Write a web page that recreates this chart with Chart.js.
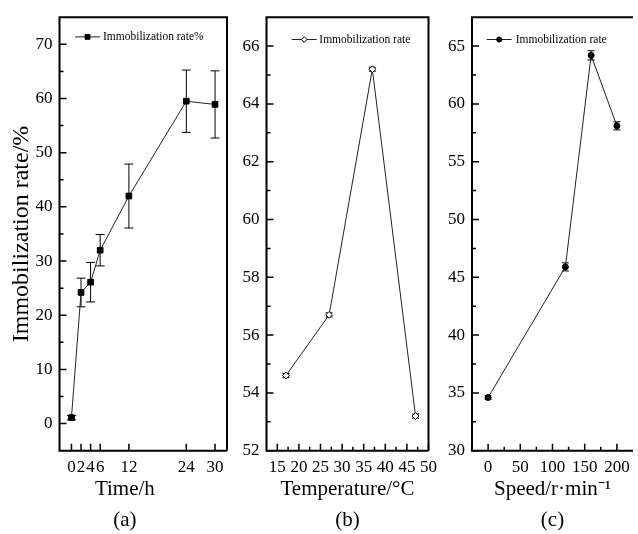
<!DOCTYPE html>
<html lang="en">
<head>
<meta charset="UTF-8">
<title>Immobilization rate</title>
<script src="https://cdn.jsdelivr.net/npm/chart.js"></script>
<style>
  body { margin: 0; background: #fff; }
  #wrap { position: relative; width: 638px; height: 534px; overflow: hidden; }
  canvas { position: absolute; top: 0; }
</style>
</head>
<body>
<div id="wrap">
  <canvas id="chartA" width="238" height="534" style="left:0px"></canvas>
  <canvas id="chartB" width="216" height="534" style="left:228px"></canvas>
  <canvas id="chartC" width="200" height="534" style="left:438px"></canvas>
</div>
<script>
// (a) immobilization time
const timeH = [0, 2, 4, 6, 12, 24, 30]
const rateTime = [1.1, 24.2, 26.1, 32.0, 42.0, 59.5, 58.9]
const errTime = [0.4, 2.65, 3.65, 2.9, 5.9, 5.75, 6.2]
const timeTicks = [0, 2, 4, 6, 12, 24, 30]
const rateTicksA = [0, 10, 20, 30, 40, 50, 60, 70]

// (b) temperature
const tempC = [17, 27, 37, 47]
const rateTemp = [54.6, 56.7, 65.2, 53.2]
const errTemp = [0.07, 0.07, 0.07, 0.07]
const tempTicks = [15, 20, 25, 30, 35, 40, 45, 50]
const rateTicksB = [52, 54, 56, 58, 60, 62, 64, 66]

// (c) shaking speed
const speed = [0, 120, 160, 200]
const rateSpeed = [34.6, 45.9, 64.2, 58.1]
const errSpeed = [0.15, 0.35, 0.4, 0.35]
const speedTicks = [0, 50, 100, 150, 200]
const rateTicksC = [30, 35, 40, 45, 50, 55, 60, 65]

Chart.defaults.font.family = "'Liberation Serif', 'Times New Roman', serif"
Chart.defaults.color = '#000'

function drawMark(ctx, style, x, y, r, fill) {
  ctx.beginPath()
  if (style === 'rect') {
    const s = r * Math.SQRT1_2
    ctx.rect(x - s, y - s, 2 * s, 2 * s)
  } else if (style === 'rectRot') {
    ctx.moveTo(x, y - r); ctx.lineTo(x + r, y); ctx.lineTo(x, y + r); ctx.lineTo(x - r, y); ctx.closePath()
  } else {
    ctx.arc(x, y, r, 0, Math.PI * 2)
  }
  ctx.fillStyle = fill
  ctx.fill()
  ctx.lineWidth = 1
  ctx.strokeStyle = '#000'
  ctx.stroke()
}

// error bars, inward ticks, box frame and the small in-plot legend
const originLook = {
  id: 'originLook',
  beforeDatasetsDraw(chart, args, o) {
    const ctx = chart.ctx, sx = chart.scales.x, sy = chart.scales.y
    ctx.save()
    ctx.strokeStyle = '#000'
    ctx.lineWidth = 1
    chart.data.datasets.forEach(ds => {
      ds.data.forEach((p, i) => {
        const x = sx.getPixelForValue(p.x)
        const yTop = sy.getPixelForValue(p.y + ds.err[i])
        const yBot = sy.getPixelForValue(p.y - ds.err[i])
        ctx.beginPath()
        ctx.moveTo(x, yTop); ctx.lineTo(x, yBot)
        ctx.moveTo(x - o.cap / 2, yTop); ctx.lineTo(x + o.cap / 2, yTop)
        ctx.moveTo(x - o.cap / 2, yBot); ctx.lineTo(x + o.cap / 2, yBot)
        ctx.stroke()
      })
    })
    ctx.restore()
  },
  afterDatasetsDraw(chart, args, o) {
    const ctx = chart.ctx, a = chart.chartArea
    ctx.save()
    ctx.strokeStyle = '#000'
    ctx.lineWidth = 1.5
    ctx.beginPath()
    const tick = (s, v, len) => {
      if (s.isHorizontal()) {
        const x = s.getPixelForValue(v)
        ctx.moveTo(x, a.bottom); ctx.lineTo(x, a.bottom - len)
      } else {
        const y = s.getPixelForValue(v)
        ctx.moveTo(a.left, y); ctx.lineTo(a.left + len, y)
      }
    }
    ;[[chart.scales.x, o.xMinor], [chart.scales.y, o.yMinor]].forEach(([s, step]) => {
      const major = s.ticks.map(t => t.value)
      major.forEach(v => tick(s, v, 7))
      if (step) {
        for (let v = Math.ceil(s.min / step) * step; v < s.max - 1e-9; v += step) {
          const r = Math.round(v * 1000) / 1000
          if (r > s.min && !major.includes(r)) tick(s, r, 4)
        }
      }
    })
    ctx.stroke()
    ctx.lineWidth = 2
    ctx.beginPath()
    ctx.moveTo(a.right, a.bottom); ctx.lineTo(a.left, a.bottom); ctx.lineTo(a.left, a.top); ctx.lineTo(a.right, a.top)
    if (o.rightEdge) ctx.lineTo(a.right, a.bottom)
    ctx.stroke()
    ctx.restore()
  },
  afterDraw(chart, args, o) {
    const ctx = chart.ctx, a = chart.chartArea, ds = chart.data.datasets[0]
    const x0 = a.left + o.legendX, y0 = a.top + o.legendY
    ctx.save()
    ctx.strokeStyle = '#222'
    ctx.lineWidth = 1
    ctx.beginPath(); ctx.moveTo(x0, y0); ctx.lineTo(x0 + 25, y0); ctx.stroke()
    drawMark(ctx, ds.pointStyle, x0 + 12.5, y0, ds.pointRadius * 0.85, ds.pointBackgroundColor)
    ctx.fillStyle = '#000'
    ctx.font = "11.5px 'Liberation Serif'"
    ctx.textBaseline = 'middle'
    ctx.fillText(ds.label, x0 + o.textGap, y0)
    ctx.restore()
  }
}

function axis(min, max, tickList, fitFn, title) {
  return {
    type: 'linear', min: min, max: max,
    afterBuildTicks: s => { s.ticks = tickList.map(v => ({ value: v })) },
    afterFit: fitFn,
    grid: { display: false, drawTicks: false },
    border: { display: false },
    ticks: { autoSkip: false, maxRotation: 0, padding: 7, font: { size: 17 }, callback: v => v },
    title: title
  }
}

function xTitle(lines) {
  return { display: true, text: lines, font: { size: 21, lineHeight: '31px' }, padding: { top: 0, bottom: -2 } }
}

function points(xs, ys) {
  return xs.map((x, i) => ({ x: x, y: ys[i] }))
}

const common = {
  responsive: false,
  animation: false,
  events: []
}

// graph (a)
new Chart(document.getElementById('chartA'), {
  type: 'line',
  data: {
    datasets: [{
      label: 'Immobilization rate%',
      data: points(timeH, rateTime),
      err: errTime,
      borderColor: '#222', borderWidth: 1,
      pointStyle: 'rect', pointRadius: 4,
      pointBackgroundColor: '#000', pointBorderColor: '#000', pointBorderWidth: 1
    }]
  },
  options: {
    ...common,
    layout: { padding: { top: 11, left: 0, right: 11, bottom: 0 } },
    scales: {
      x: axis(-2.5, 32.5, timeTicks, s => { s.height = 83.3 },
        xTitle(['Time/h\u00a0\u00a0\u00a0\u00a0\u00a0\u00a0\u00a0', '(a)\u00a0\u00a0\u00a0\u00a0\u00a0\u00a0\u00a0'])),
      y: axis(-5, 75, rateTicksA, s => { s.width = 59.5 },
        { display: true, text: 'Immobilization rate/%', font: { size: 24 }, padding: { top: 7, bottom: 0 } })
    },
    plugins: {
      legend: { display: false },
      tooltip: { enabled: false },
      originLook: { cap: 9, xMinor: 0, yMinor: 5, rightEdge: true, legendX: 15.5, legendY: 19.7, textGap: 28 }
    }
  },
  plugins: [originLook]
})

// graph (b)
new Chart(document.getElementById('chartB'), {
  type: 'line',
  data: {
    datasets: [{
      label: 'Immobilization rate',
      data: points(tempC, rateTemp),
      err: errTemp,
      borderColor: '#222', borderWidth: 1,
      pointStyle: 'rectRot', pointRadius: 3.4,
      pointBackgroundColor: '#fff', pointBorderColor: '#000', pointBorderWidth: 1
    }]
  },
  options: {
    ...common,
    layout: { padding: { top: 11, left: 0, right: 10.7, bottom: 0 } },
    scales: {
      x: axis(12.5, 50, tempTicks, s => { s.height = 83.3 }, xTitle(['Temperature/\u00b0C', '(b)'])),
      y: axis(52, 67, rateTicksB, s => { s.width = 38.5 }, { display: false })
    },
    plugins: {
      legend: { display: false },
      tooltip: { enabled: false },
      originLook: { cap: 7, xMinor: 2.5, yMinor: 1, rightEdge: true, legendX: 25.2, legendY: 22.3, textGap: 27.6 }
    }
  },
  plugins: [originLook]
})

// graph (c)
new Chart(document.getElementById('chartC'), {
  type: 'line',
  data: {
    datasets: [{
      label: 'Immobilization rate',
      data: points(speed, rateSpeed),
      err: errSpeed,
      borderColor: '#222', borderWidth: 1,
      pointStyle: 'circle', pointRadius: 3,
      pointBackgroundColor: '#000', pointBorderColor: '#000', pointBorderWidth: 1
    }]
  },
  options: {
    ...common,
    layout: { padding: { top: 11, left: 0, right: 0, bottom: 0 } },
    scales: {
      x: axis(-25, 225, speedTicks, s => { s.height = 83.3 }, xTitle(['Speed/r\u00b7min\u207b\u00b9', '(c)'])),
      y: axis(30, 67.5, rateTicksC, s => { s.width = 34 }, { display: false })
    },
    plugins: {
      legend: { display: false },
      tooltip: { enabled: false },
      originLook: { cap: 7, xMinor: 25, yMinor: 2.5, rightEdge: false, legendX: 14.7, legendY: 22.3, textGap: 29 }
    }
  },
  plugins: [originLook]
})
</script>
</body>
</html>
